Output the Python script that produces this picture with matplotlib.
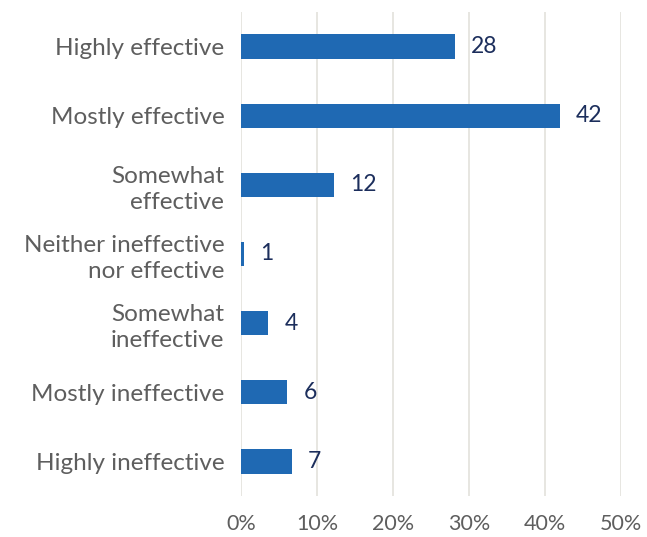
import numpy as np
import matplotlib.pyplot as plt

categories = ["Highly effective", "Mostly effective", "Somewhat\neffective",
              "Neither ineffective\nnor effective", "Somewhat\nineffective",
              "Mostly ineffective", "Highly ineffective"]
values = [28.2, 42.0, 12.3, 0.4, 3.6, 6.1, 6.7]
value_labels = ["28", "42", "12", "1", "4", "6", "7"]
x_ticks = [0, 10, 20, 30, 40, 50]
x_tick_labels = ["0%", "10%", "20%", "30%", "40%", "50%"]

plt.rcParams['font.family'] = ['Lato', 'DejaVu Sans']

fig = plt.figure(figsize=(6.47, 5.37), dpi=100)
ax = fig.add_axes([241 / 647, 1 - 496 / 537, 380 / 647, 484 / 537])

y = np.arange(len(categories))
ax.barh(y, values, height=0.35, color='#1f69b3', zorder=3)

for yi, v, lab in zip(y, values, value_labels):
    ax.text(v + 2.1, yi, lab, va='center', ha='left', fontsize=16.5, color='#1c2e5c')

ax.set_xlim(0, 50)
ax.set_ylim(len(categories) - 0.5, -0.5)
ax.set_xticks(x_ticks)
ax.set_xticklabels(x_tick_labels, fontsize=15.5, color='#5e5e5e')
ax.set_yticks(y)
ax.set_yticklabels(categories, fontsize=17.5, color='#5e5e5e', linespacing=1.3)
ax.tick_params(axis='both', length=0)
ax.tick_params(axis='x', pad=13)
ax.tick_params(axis='y', pad=12)
ax.grid(axis='x', color='#e3e1dc', linewidth=1.2, zorder=0)
for s in ax.spines.values():
    s.set_visible(False)

plt.savefig('out.png', dpi=100)
plt.close()
